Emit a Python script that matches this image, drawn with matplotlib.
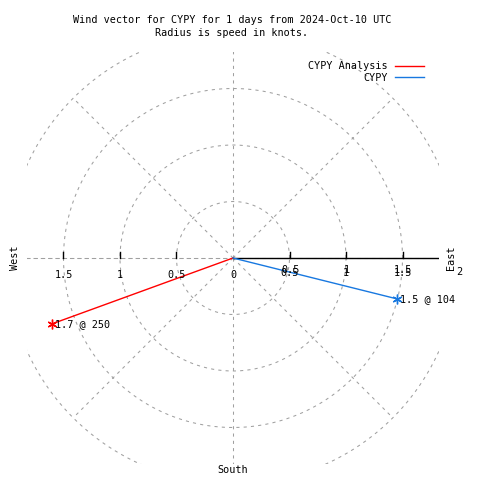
import numpy as np
import matplotlib
matplotlib.use("Agg")
import matplotlib.pyplot as plt
from matplotlib.lines import Line2D

# wind vectors (speed in knots, direction in degrees)
names = ["CYPY Analysis", "CYPY"]
speeds = [1.7, 1.5]
directions = [250, 104]
colors = ["#ff0000", "#1878e0"]

rings = [0.5, 1.0, 1.5, 2.0]
spokes = [0, 45, 90, 135, 180, 225, 270, 315]
left_labels = ["1.5", "1", "0.5", "0"]
left_vals = [1.5, 1.0, 0.5, 0.0]
right_labels = ["0.5", "1", "1.5", "2"]
right_vals = [0.5, 1.0, 1.5, 2.0]

plt.rcParams["font.family"] = ["DejaVu Sans Mono"]
plt.rcParams["font.size"] = 7.3

W = 480.0
fig = plt.figure(figsize=(4.8, 4.8), dpi=100)
ax = fig.add_axes([27 / W, 16 / W, 412 / W, 412 / W])
lim = 206 / 113.0
ax.set_xlim(-lim, lim)
ax.set_ylim(-lim, lim)
ax.set_aspect("equal")
ax.axis("off")

# polar grid
grid = dict(color="#a0a0a0", lw=0.75, dashes=(3, 4))
t = np.linspace(0, 2 * np.pi, 400)
for r in rings:
    ax.plot(r * np.cos(t), r * np.sin(t), **grid)
for a in spokes:
    th = np.radians(a)
    ax.plot([0, 2 * np.sin(th)], [0, 2 * np.cos(th)], **grid)
ax.plot([-lim, 0], [0, 0], **grid)
ax.plot([0, lim], [0, 0], color="black", lw=1)

# ticks on the axis
for v in [-1.5, -1.0, -0.5, 0.5, 1.0, 1.5]:
    ax.plot([v, v], [0, 0.05], color="black", lw=1)

for lab, v in zip(left_labels, left_vals):
    ax.annotate(lab, (-v, 0), xytext=(0, -12.5), textcoords="offset points",
                ha="center", va="center")
for lab, v in zip(right_labels, right_vals):
    if v < 2:
        # gnuplot draws these twice, slightly offset
        ax.annotate(lab, (v, 0), xytext=(0, -11), textcoords="offset points",
                    ha="center", va="center", annotation_clip=False)
        ax.annotate(lab, (v, 0), xytext=(0.7, -8.3), textcoords="offset points",
                    ha="center", va="center", annotation_clip=False)
    else:
        ax.annotate(lab, (v, 0), xytext=(0, -10), textcoords="offset points",
                    ha="center", va="center", annotation_clip=False)

for name, s, d, c in zip(names, speeds, directions, colors):
    th = np.radians(d)
    x, y = s * np.sin(th), s * np.cos(th)
    ax.plot([0, x], [0, y], color=c, lw=1, label=name)
    ax.plot([x], [y], marker=(6, 2, 0), color=c, ms=7, mew=1)
    ax.annotate("%.1f @ %d" % (s, d), (x, y), xytext=(1.5, 0),
                textcoords="offset points", ha="left", va="center")

handles = [Line2D([], [], color=c, lw=1) for c in colors]
ax.legend(handles, names, markerfirst=False, frameon=False, loc="upper right",
          bbox_to_anchor=(429 / W, 1 - 56 / W), bbox_transform=fig.transFigure,
          borderpad=0, handlelength=2.9, handletextpad=0.7, labelspacing=0.18)

fig.text(232 / W, 1 - 20 / W, "Wind vector for CYPY for 1 days from 2024-Oct-10 UTC",
         ha="center", va="center")
fig.text(232 / W, 1 - 33 / W, "Radius is speed in knots.", ha="center", va="center")
fig.text(15 / W, 1 - 258 / W, "West", rotation=90, ha="center", va="center")
fig.text(451 / W, 1 - 258 / W, "East", rotation=90, ha="center", va="center")
fig.text(233 / W, 1 - 470 / W, "South", ha="center", va="center")

fig.savefig("out.png", dpi=100)
